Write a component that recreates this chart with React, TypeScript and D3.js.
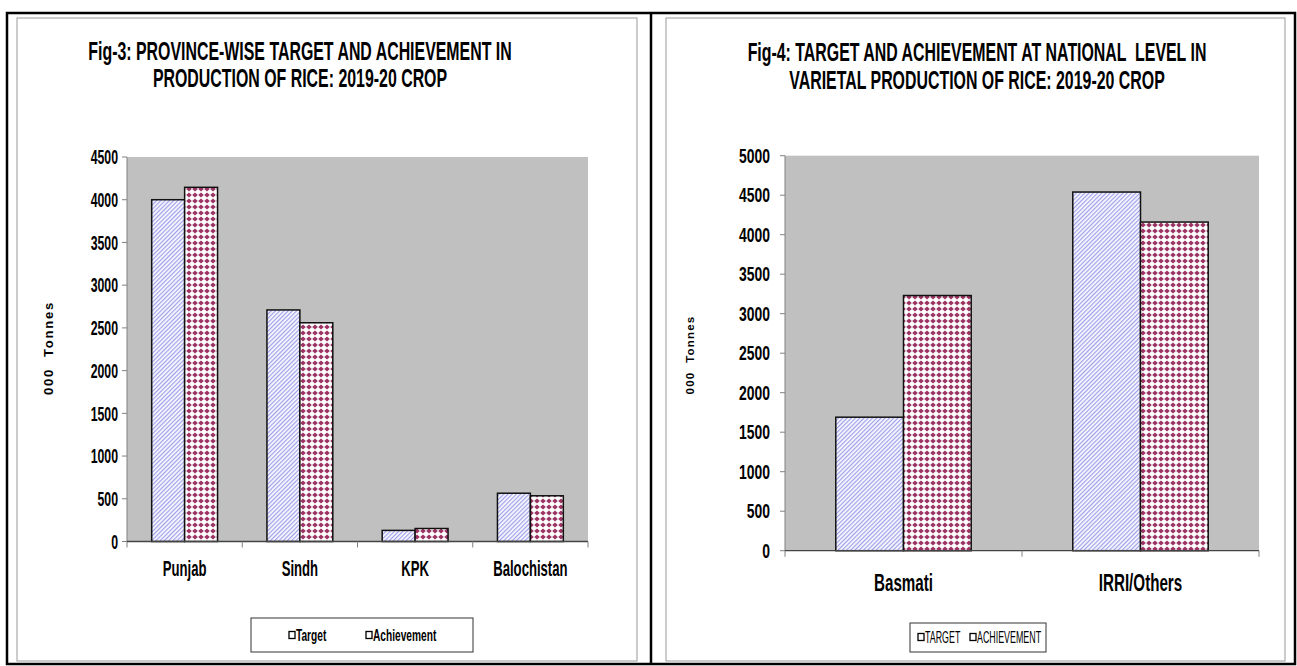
import React from 'react';
import * as d3 from 'd3';

// Fig-3: province-wise
const provinces = ['Punjab', 'Sindh', 'KPK', 'Balochistan'];
const provinceTarget = [4000, 2710, 130, 565];
const provinceAchievement = [4145, 2560, 152, 535];
const provinceTicks = [0, 500, 1000, 1500, 2000, 2500, 3000, 3500, 4000, 4500];

// Fig-4: varietal
const varieties = ['Basmati', 'IRRI/Others'];
const varietyTarget = [1690, 4540];
const varietyAchievement = [3230, 4160];
const varietyTicks = [0, 500, 1000, 1500, 2000, 2500, 3000, 3500, 4000, 4500, 5000];

const FONT = "'Liberation Sans', Arial, sans-serif";

const Label = ({ x, y, size, sx = 0.82, sy = 1, anchor = 'middle', weight = 'bold', rotate = 0, spacing = 0, children }) => (
  <text
    transform={`translate(${x},${y}) rotate(${rotate}) scale(${sx},${sy})`}
    fontSize={size}
    fontWeight={weight}
    fontFamily={FONT}
    textAnchor={anchor}
    dominantBaseline="central"
    letterSpacing={spacing}
    style={{ whiteSpace: 'pre' }}
    fill="#000"
  >
    {children}
  </text>
);

const BarPanel = ({ cfg }) => {
  const { cats, target, achievement, ticks, left, right, top, bottom } = cfg;

  const x = d3.scaleBand().domain(cats).range([left, right]).padding(0);
  const y = d3.scaleLinear().domain([0, ticks[ticks.length - 1]]).range([bottom, top]);
  // excel style gap width 150%
  const barW = x.bandwidth() / 3.5;
  const inner = d3.scaleBand().domain(['t', 'a']).range([0, barW * 2]);

  const rows = cats.map((c, i) => ({ c, t: target[i], a: achievement[i] }));

  return (
    <g>
      {cfg.title.map((line, i) => (
        <Label key={i} x={cfg.titleX} y={cfg.titleY[i]} size={19.4} sy={cfg.titleSy}>{line}</Label>
      ))}

      <rect x={left} y={top} width={right - left} height={bottom - top} fill="#c0c0c0" />

      {rows.map((d) => {
        const x0 = x(d.c) + (x.bandwidth() - barW * 2) / 2;
        return (
          <g key={d.c}>
            <rect x={x0 + inner('t')} y={y(d.t)} width={barW} height={bottom - y(d.t)}
              fill="url(#hatch)" stroke="#111" strokeWidth={1.5} />
            <rect x={x0 + inner('a')} y={y(d.a)} width={barW} height={bottom - y(d.a)}
              fill="url(#diamond)" stroke="#111" strokeWidth={1.5} />
          </g>
        );
      })}

      {/* y axis */}
      <line x1={left} x2={left} y1={top} y2={bottom + 6} stroke="#808080" />
      {ticks.map((t) => (
        <g key={t}>
          <line x1={left - 5} x2={left} y1={y(t)} y2={y(t)} stroke="#808080" />
          <Label x={cfg.tickX} y={y(t)} size={cfg.tickSize} sy={cfg.tickSy} anchor="end">{t}</Label>
        </g>
      ))}

      {/* x axis */}
      <line x1={left} x2={right} y1={bottom} y2={bottom} stroke="#444" strokeWidth={1.3} />
      {cats.map((c) => (
        <line key={c} x1={x(c) + x.bandwidth()} x2={x(c) + x.bandwidth()} y1={bottom} y2={bottom + 6} stroke="#808080" />
      ))}
      {cats.map((c) => (
        <Label key={c} x={x(c) + x.bandwidth() / 2} y={cfg.catY} size={cfg.catSize} sy={cfg.catSy}>{c}</Label>
      ))}

      <Label x={cfg.yTitleX} y={cfg.yTitleY} size={cfg.yTitleSize} sx={1} rotate={-90} spacing={cfg.yTitleSpacing}>
        000  Tonnes
      </Label>

      {/* legend */}
      <rect x={cfg.legend.x} y={cfg.legend.y} width={cfg.legend.w} height={cfg.legend.h}
        fill="#fff" stroke="#333" strokeWidth={1} />
      {cfg.legend.items.map((it) => (
        <g key={it.label}>
          <rect x={it.x - 7} y={cfg.legend.ty - 3.5} width={6} height={7} fill="#fff" stroke="#000" strokeWidth={1.3} />
          <Label x={it.x} y={cfg.legend.ty} size={cfg.legend.size} sx={cfg.legend.sx} sy={cfg.legend.sy}
            anchor="start" weight={cfg.legend.weight}>{it.label}</Label>
        </g>
      ))}
    </g>
  );
};

const fig3 = {
  cats: provinces,
  target: provinceTarget,
  achievement: provinceAchievement,
  ticks: provinceTicks,
  left: 127,
  right: 588,
  top: 157,
  bottom: 541.5,
  title: ['Fig-3: PROVINCE-WISE TARGET AND ACHIEVEMENT IN', 'PRODUCTION OF RICE: 2019-20 CROP'],
  titleX: 300,
  titleY: [51, 78],
  titleSy: 1.35,
  tickX: 118,
  tickSize: 15,
  tickSy: 1.3,
  catY: 569,
  catSize: 16,
  catSy: 1.35,
  yTitleX: 48,
  yTitleY: 348,
  yTitleSize: 13,
  yTitleSpacing: 1.8,
  legend: {
    x: 251, y: 618, w: 222, h: 34, ty: 635, size: 12.4, sx: 0.82, sy: 1.4, weight: 'bold',
    items: [{ label: 'Target', x: 296 }, { label: 'Achievement', x: 373 }],
  },
};

const fig4 = {
  cats: varieties,
  target: varietyTarget,
  achievement: varietyAchievement,
  ticks: varietyTicks,
  left: 785,
  right: 1259,
  top: 155.7,
  bottom: 550.7,
  title: ['Fig-4: TARGET AND ACHIEVEMENT AT NATIONAL  LEVEL IN', 'VARIETAL PRODUCTION OF RICE: 2019-20 CROP'],
  titleX: 977,
  titleY: [52, 80],
  titleSy: 1.35,
  tickX: 770,
  tickSize: 17,
  tickSy: 1.2,
  catY: 583,
  catSize: 18.5,
  catSy: 1.3,
  yTitleX: 690,
  yTitleY: 355,
  yTitleSize: 11.5,
  yTitleSpacing: 1.2,
  legend: {
    x: 910, y: 623, w: 136, h: 29, ty: 637, size: 12, sx: 0.74, sy: 1.35, weight: 'normal',
    items: [{ label: 'TARGET', x: 925 }, { label: 'ACHIEVEMENT', x: 977 }],
  },
};

export default function App() {
  return (
    <svg width={1297} height={666} style={{ position: 'absolute', left: 0, top: 0, background: '#fff' }}>
      <defs>
        <pattern id="hatch" width="3" height="3" patternUnits="userSpaceOnUse" patternTransform="rotate(45)">
          <rect width="3" height="3" fill="#f8f8ff" />
          <line x1="0.6" y1="0" x2="0.6" y2="3" stroke="#9a9aea" strokeWidth="1.1" />
        </pattern>
        <pattern id="diamond" width="6" height="6" patternUnits="userSpaceOnUse">
          <rect width="6" height="6" fill="#fff" />
          <polygon points="3,0.4 5.8,3 3,5.6 0.2,3" fill="#9c3463" />
        </pattern>
      </defs>

      {/* page frames */}
      <rect x={17} y={18} width={620} height={643} fill="none" stroke="#999" />
      <rect x={666} y={18} width={619} height={643} fill="none" stroke="#999" />
      <rect x={7} y={13} width={1288} height={651} fill="none" stroke="#000" strokeWidth={2.5} />
      <line x1={651} x2={651} y1={13} y2={664} stroke="#000" strokeWidth={2.5} />

      <BarPanel cfg={fig3} />
      <BarPanel cfg={fig4} />
    </svg>
  );
}
